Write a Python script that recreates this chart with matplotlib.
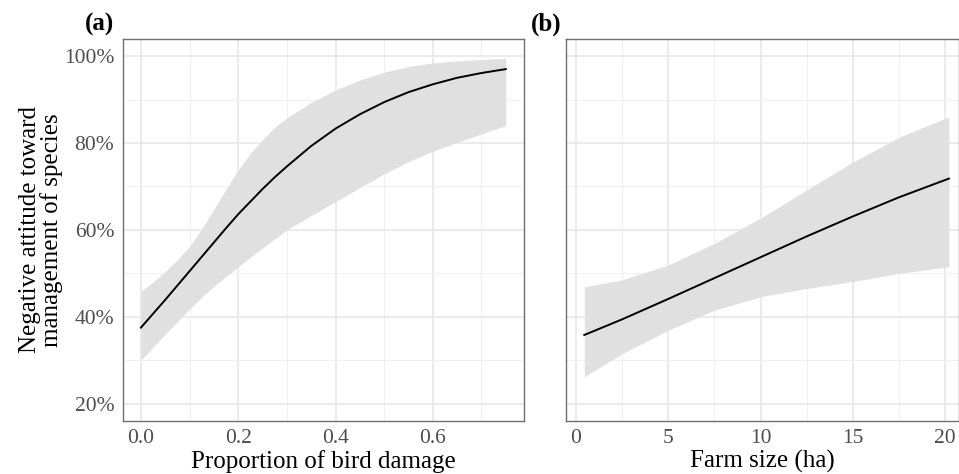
import numpy as np
import matplotlib
matplotlib.use('Agg')
import matplotlib.pyplot as plt
from matplotlib.ticker import FixedLocator, FuncFormatter

plt.rcParams['font.family'] = ['Liberation Serif', 'DejaVu Serif']

# Panel (a): proportion of bird damage
damage = [0.0, 0.025, 0.05, 0.075, 0.10, 0.125, 0.15, 0.175, 0.20, 0.225, 0.25, 0.275, 0.30,
          0.35, 0.40, 0.45, 0.50, 0.55, 0.60, 0.65, 0.70, 0.75]
damage_fit = [0.375, 0.407, 0.439, 0.472, 0.505, 0.538, 0.571, 0.604, 0.636, 0.665, 0.694, 0.721, 0.746,
              0.793, 0.833, 0.866, 0.894, 0.917, 0.935, 0.950, 0.961, 0.970]
damage_lo = [0.300, 0.330, 0.360, 0.389, 0.418, 0.445, 0.470, 0.493, 0.515, 0.537, 0.558, 0.579, 0.600,
             0.633, 0.665, 0.697, 0.729, 0.757, 0.781, 0.801, 0.821, 0.840]
damage_hi = [0.458, 0.480, 0.504, 0.531, 0.562, 0.602, 0.648, 0.694, 0.738, 0.776, 0.808, 0.836, 0.858,
             0.893, 0.922, 0.945, 0.963, 0.976, 0.984, 0.989, 0.992, 0.995]

# Panel (b): farm size
farm = [0.45, 2.5, 5.0, 7.5, 10.0, 12.5, 15.0, 17.5, 20.2]
farm_fit = [0.358, 0.394, 0.441, 0.489, 0.537, 0.585, 0.631, 0.675, 0.718]
farm_lo = [0.262, 0.315, 0.369, 0.415, 0.446, 0.465, 0.481, 0.500, 0.515]
farm_hi = [0.469, 0.485, 0.519, 0.569, 0.627, 0.692, 0.756, 0.813, 0.860]

W, H = 959, 474
fig = plt.figure(figsize=(W / 100, H / 100), dpi=100)

ax_a = fig.add_axes([122.7 / W, 1 - 421 / H, (524 - 122.7) / W, (421 - 38.7) / H])
ax_b = fig.add_axes([566 / W, 1 - 421 / H, (958.5 - 566) / W, (421 - 38.7) / H])

pct = FuncFormatter(lambda v, p: f'{v * 100:.0f}%')


def style(ax, xmaj, xmin):
    ax.set_ylim(0.16, 1.04)
    ax.yaxis.set_major_locator(FixedLocator([0.2, 0.4, 0.6, 0.8, 1.0]))
    ax.yaxis.set_minor_locator(FixedLocator([0.3, 0.5, 0.7, 0.9]))
    ax.xaxis.set_major_locator(FixedLocator(xmaj))
    ax.xaxis.set_minor_locator(FixedLocator(xmin))
    ax.grid(True, which='major', color='#e6e6e6', linewidth=1.1, zorder=0)
    ax.grid(True, which='minor', color='#f0f0f0', linewidth=0.7, zorder=0)
    ax.set_axisbelow(True)
    for s in ax.spines.values():
        s.set_color('#707070')
        s.set_linewidth(1.0)
    ax.tick_params(which='both', length=0, labelsize=15.5, labelcolor='#4d4d4d', pad=6)


ax_a.fill_between(damage, damage_lo, damage_hi, color='#e0e0e0', linewidth=0, zorder=2)
ax_a.plot(damage, damage_fit, color='black', linewidth=1.4, zorder=3)
ax_a.set_xlim(-0.0375, 0.7875)
style(ax_a, [0.0, 0.2, 0.4, 0.6], [0.1, 0.3, 0.5, 0.7])
ax_a.xaxis.set_major_formatter(FuncFormatter(lambda v, p: f'{v:.1f}'))
ax_a.yaxis.set_major_formatter(pct)
ax_a.set_xlabel('Proportion of bird damage', fontsize=18, labelpad=1)
ax_a.set_ylabel('Negative attitude toward\nmanagement of species', fontsize=18,
                linespacing=0.95, labelpad=1)

ax_b.fill_between(farm, farm_lo, farm_hi, color='#e0e0e0', linewidth=0, zorder=2)
ax_b.plot(farm, farm_fit, color='black', linewidth=1.4, zorder=3)
ax_b.set_xlim(-0.54, 20.72)
style(ax_b, [0, 5, 10, 15, 20], [2.5, 7.5, 12.5, 17.5])
ax_b.yaxis.set_major_formatter(FuncFormatter(lambda v, p: ''))
ax_b.set_xlabel('Farm size (ha)', fontsize=18, labelpad=1)

fig.text(99 / W, 1 - 24 / H, '(a)', fontsize=18, fontweight='bold', ha='center', va='center')
fig.text(546 / W, 1 - 24 / H, '(b)', fontsize=18, fontweight='bold', ha='center', va='center')

fig.savefig('out.png', dpi=100)
